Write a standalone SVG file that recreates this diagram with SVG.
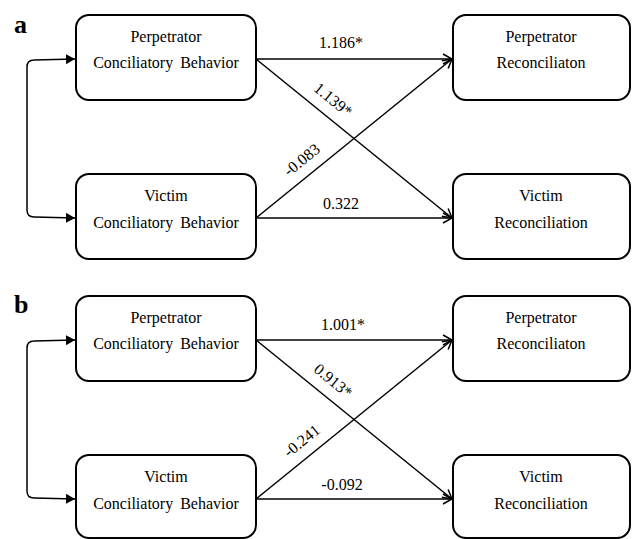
<svg xmlns="http://www.w3.org/2000/svg" width="632" height="539" viewBox="0 0 632 539">
<defs>
<style>
.box{fill:#fff;stroke:#000;stroke-width:2}
.t{font-family:"Liberation Serif","Times New Roman","DejaVu Serif",serif;font-size:16px;fill:#000;text-anchor:middle}
.p{font-family:"Liberation Serif","Times New Roman","DejaVu Serif",serif;font-size:26px;font-weight:bold;fill:#000}
.ln{stroke:#000;stroke-width:1.5;fill:none}
</style>
<marker id="open" markerWidth="12" markerHeight="12" refX="10" refY="6" orient="auto" markerUnits="userSpaceOnUse">
<path d="M1,1 L10,6 L1,11" fill="none" stroke="#000" stroke-width="1.5"/>
</marker>
<marker id="fill" markerWidth="10" markerHeight="10" refX="9" refY="5" orient="auto-start-reverse" markerUnits="userSpaceOnUse">
<path d="M0,0 L9,5 L0,10 Z" fill="#000"/>
</marker>
</defs>
<rect width="632" height="539" fill="#fff"/>

<g id="panel-a">
<text class="p" x="14" y="33">a</text>
<g id="connectors-a">
<line class="ln" x1="256" y1="59" x2="452" y2="59" marker-end="url(#open)"/>
<line class="ln" x1="256" y1="59" x2="452" y2="218" marker-end="url(#open)"/>
<line class="ln" x1="256" y1="218" x2="452" y2="59" marker-end="url(#open)"/>
<line class="ln" x1="256" y1="218" x2="452" y2="218" marker-end="url(#open)"/>
<path class="ln" d="M75,59 L34,60 Q27,60 27,67 L27,210 Q27,217 34,217 L75,218" marker-start="url(#fill)" marker-end="url(#fill)"/>
<text class="t" x="341" y="48">1.186*</text>
<text class="t" x="341" y="209">0.322</text>
<text class="t" transform="translate(333,100) rotate(38.9)" y="5">1.139*</text>
<text class="t" transform="translate(302,160) rotate(-38.9)" y="5">-0.083</text>
</g>
<g id="a-perp-behavior">
<rect class="box" x="76" y="15" width="180" height="85" rx="13"/>
<text class="t" x="166" y="42">Perpetrator</text>
<text class="t" x="166" y="68" word-spacing="3">Conciliatory Behavior</text>
</g>
<g id="a-victim-behavior">
<rect class="box" x="76" y="174" width="180" height="85" rx="13"/>
<text class="t" x="166" y="201">Victim</text>
<text class="t" x="166" y="228" word-spacing="3">Conciliatory Behavior</text>
</g>
<g id="a-perp-recon">
<rect class="box" x="453" y="15" width="177" height="85" rx="13"/>
<text class="t" x="541" y="42">Perpetrator</text>
<text class="t" x="541" y="68">Reconciliaton</text>
</g>
<g id="a-victim-recon">
<rect class="box" x="453" y="174" width="177" height="85" rx="13"/>
<text class="t" x="541" y="201">Victim</text>
<text class="t" x="541" y="228">Reconciliation</text>
</g>
</g>

<g id="panel-b">
<text class="p" x="14" y="313">b</text>
<g id="connectors-b">
<line class="ln" x1="256" y1="340" x2="452" y2="340" marker-end="url(#open)"/>
<line class="ln" x1="256" y1="340" x2="452" y2="499" marker-end="url(#open)"/>
<line class="ln" x1="256" y1="499" x2="452" y2="340" marker-end="url(#open)"/>
<line class="ln" x1="256" y1="499" x2="452" y2="499" marker-end="url(#open)"/>
<path class="ln" d="M75,340 L34,341 Q27,341 27,348 L27,491 Q27,498 34,498 L75,499" marker-start="url(#fill)" marker-end="url(#fill)"/>
<text class="t" x="343" y="330">1.001*</text>
<text class="t" x="342" y="490">-0.092</text>
<text class="t" transform="translate(333,381) rotate(38.9)" y="5">0.913*</text>
<text class="t" transform="translate(302,441) rotate(-38.9)" y="5">-0.241</text>
</g>
<g id="b-perp-behavior">
<rect class="box" x="76" y="296" width="180" height="85" rx="13"/>
<text class="t" x="166" y="323">Perpetrator</text>
<text class="t" x="166" y="349" word-spacing="3">Conciliatory Behavior</text>
</g>
<g id="b-victim-behavior">
<rect class="box" x="76" y="455" width="180" height="83" rx="13"/>
<text class="t" x="166" y="482">Victim</text>
<text class="t" x="166" y="509" word-spacing="3">Conciliatory Behavior</text>
</g>
<g id="b-perp-recon">
<rect class="box" x="453" y="296" width="177" height="85" rx="13"/>
<text class="t" x="541" y="323">Perpetrator</text>
<text class="t" x="541" y="349">Reconciliaton</text>
</g>
<g id="b-victim-recon">
<rect class="box" x="453" y="455" width="177" height="83" rx="13"/>
<text class="t" x="541" y="482">Victim</text>
<text class="t" x="541" y="509">Reconciliation</text>
</g>
</g>
</svg>
